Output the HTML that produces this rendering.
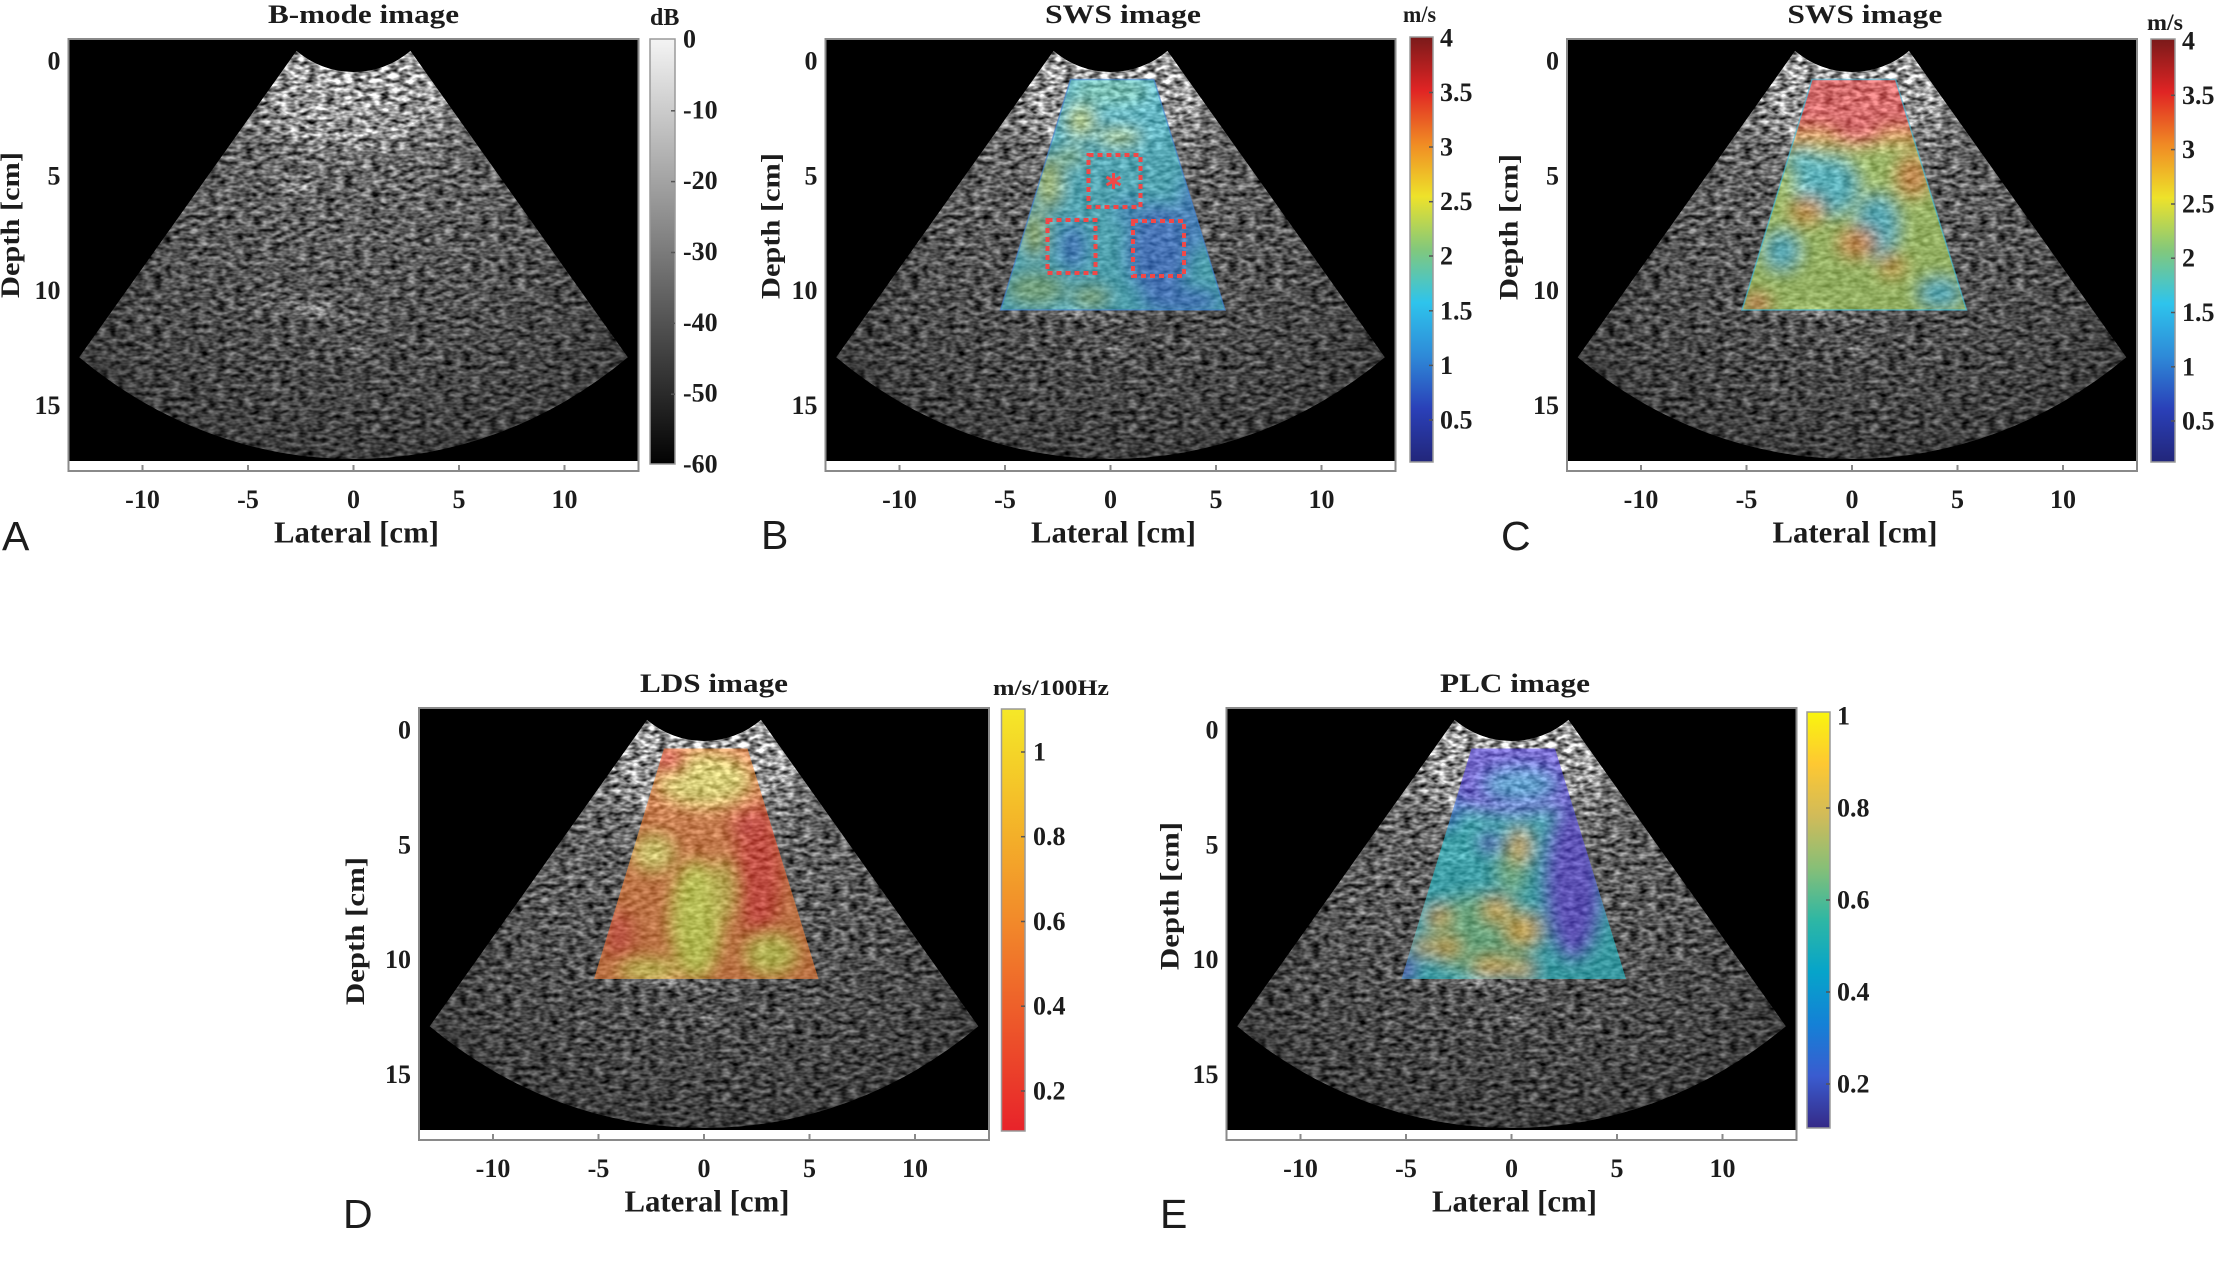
<!DOCTYPE html>
<html><head><meta charset="utf-8"><style>
html,body{margin:0;padding:0;background:#fff;}
svg{display:block;}
.t{font-family:"Liberation Serif","Times New Roman",Times,serif;font-weight:bold;fill:#1c1c1c;}
.L{font-family:"Liberation Sans",Arial,sans-serif;font-weight:normal;fill:#1c1c1c;}
</style></head><body>
<svg xmlns="http://www.w3.org/2000/svg" xmlns:xlink="http://www.w3.org/1999/xlink" width="2216" height="1262" viewBox="0 0 2216 1262">
<defs>
  <radialGradient id="bmg" gradientUnits="userSpaceOnUse" cx="0" cy="0" r="21.27" gradientTransform="translate(0,-90.5) scale(21.1,22.96)">
    <stop offset="0" stop-color="#a8a8a8"/>
    <stop offset="0.207" stop-color="#a8a8a8"/>
    <stop offset="0.25" stop-color="#9a9a9a"/>
    <stop offset="0.30" stop-color="#929292"/>
    <stop offset="0.35" stop-color="#868686"/>
    <stop offset="0.39" stop-color="#6e6e6e"/>
    <stop offset="0.45" stop-color="#646464"/>
    <stop offset="0.60" stop-color="#5a5a5a"/>
    <stop offset="0.80" stop-color="#4c4c4c"/>
    <stop offset="1" stop-color="#3e3e3e"/>
  </radialGradient>
  <radialGradient id="glow">
    <stop offset="0" stop-color="#fff" stop-opacity="0.22"/>
    <stop offset="1" stop-color="#fff" stop-opacity="0"/>
  </radialGradient>
  <clipPath id="sec"><path d="M -57 -10.1 A 93.3 101.5 0 0 0 57 -10.1 L 274.3 296.2 A 448.8 488.4 0 0 1 -274.3 296.2 Z"/></clipPath>
  <clipPath id="roi"><path d="M -40 18.5 L 43.5 18.5 L 114.5 249 L -110 249 Z"/></clipPath>
  <filter id="spk" x="-2%" y="-2%" width="104%" height="104%" color-interpolation-filters="sRGB">
    <feTurbulence type="fractalNoise" baseFrequency="0.11 0.22" numOctaves="2" seed="4" result="t"/>
    <feColorMatrix in="t" type="matrix" values="1 0 0 0 0  1 0 0 0 0  1 0 0 0 0  0 0 0 0 1" result="g"/>
    <feComponentTransfer in="g" result="c">
      <feFuncR type="linear" slope="1.45" intercept="-0.225"/>
      <feFuncG type="linear" slope="1.45" intercept="-0.225"/>
      <feFuncB type="linear" slope="1.45" intercept="-0.225"/>
    </feComponentTransfer>
    <feComposite in="SourceGraphic" in2="c" operator="arithmetic" k1="2" k2="0" k3="0" k4="0"/>
  </filter>
  <filter id="bl" x="-30%" y="-30%" width="160%" height="160%">
    <feGaussianBlur stdDeviation="8"/>
  </filter>
  <linearGradient id="gGray" x1="0" y1="0" x2="0" y2="1">
    <stop offset="0" stop-color="#f4f4f4"/>
    <stop offset="1" stop-color="#020202"/>
  </linearGradient>
  <linearGradient id="gJet" x1="0" y1="0" x2="0" y2="1">
    <stop offset="0" stop-color="#7a1a1a"/>
    <stop offset="0.125" stop-color="#e02424"/>
    <stop offset="0.25" stop-color="#f08a24"/>
    <stop offset="0.375" stop-color="#eee22a"/>
    <stop offset="0.5" stop-color="#82c87c"/>
    <stop offset="0.625" stop-color="#2ec4ec"/>
    <stop offset="0.75" stop-color="#2e8ad8"/>
    <stop offset="0.875" stop-color="#2a40b8"/>
    <stop offset="1" stop-color="#22267a"/>
  </linearGradient>
  <linearGradient id="gAut" x1="0" y1="0" x2="0" y2="1">
    <stop offset="0" stop-color="#f5e828"/>
    <stop offset="0.5" stop-color="#f28a2a"/>
    <stop offset="1" stop-color="#e8232a"/>
  </linearGradient>
  <linearGradient id="gPar" x1="0" y1="0" x2="0" y2="1">
    <stop offset="0" stop-color="#f9f50e"/>
    <stop offset="0.125" stop-color="#fec832"/>
    <stop offset="0.25" stop-color="#d1bb59"/>
    <stop offset="0.375" stop-color="#87bf77"/>
    <stop offset="0.5" stop-color="#2eb7a4"/>
    <stop offset="0.625" stop-color="#06a4ca"/>
    <stop offset="0.75" stop-color="#1481d6"/>
    <stop offset="0.875" stop-color="#3a5cd0"/>
    <stop offset="1" stop-color="#352a87"/>
  </linearGradient>
  <g id="bm">
    <g filter="url(#spk)">
      <path d="M -57 -10.1 A 93.3 101.5 0 0 0 57 -10.1 L 274.3 296.2 A 448.8 488.4 0 0 1 -274.3 296.2 Z" fill="url(#bmg)"/>
      <g clip-path="url(#sec)" fill="none" stroke="#e0e0e0">
        <ellipse cx="0" cy="-90.5" rx="102.1" ry="111.1" stroke-width="4" stroke-opacity="0.28"/>
        <ellipse cx="0" cy="-90.5" rx="116.9" ry="127.2" stroke-width="4" stroke-opacity="0.25"/>
        <ellipse cx="0" cy="-90.5" rx="131.7" ry="143.3" stroke-width="4" stroke-opacity="0.22"/>
        <ellipse cx="0" cy="-90.5" rx="150.7" ry="163.9" stroke-width="5" stroke-opacity="0.28"/>
        <ellipse cx="-55" cy="125" rx="25" ry="14" fill="url(#glow)" stroke="none"/>
        <ellipse cx="-42" cy="248" rx="70" ry="14" fill="url(#glow)" stroke="none" transform="rotate(11 -42 248)"/>
        <ellipse cx="4" cy="290" rx="12" ry="10" fill="url(#glow)" stroke="none"/>
        <ellipse cx="-45" cy="72" rx="50" ry="8" fill="url(#glow)" stroke="none"/>
      </g>
    </g>
  </g>
  <g id="axfr">
    <rect x="-285" y="-22" width="570" height="432" fill="#fff" stroke="#8a8a8a" stroke-width="2"/>
    <rect x="-284" y="-21" width="568" height="421" fill="#000"/>
  </g>
  <g id="ticks" stroke="#8a8a8a" stroke-width="2">
    <line x1="-211" y1="410" x2="-211" y2="404"/>
    <line x1="-105.5" y1="410" x2="-105.5" y2="404"/>
    <line x1="0" y1="410" x2="0" y2="404"/>
    <line x1="105.5" y1="410" x2="105.5" y2="404"/>
    <line x1="211" y1="410" x2="211" y2="404"/>
  </g>
  <g id="lbls" class="t" font-size="26">
    <text class="t" x="-293" y="8.5" text-anchor="end">0</text>
    <text class="t" x="-293" y="123.3" text-anchor="end">5</text>
    <text class="t" x="-293" y="238.1" text-anchor="end">10</text>
    <text class="t" x="-293" y="352.9" text-anchor="end">15</text>
    <text class="t" x="-211" y="447" text-anchor="middle">-10</text>
    <text class="t" x="-105.5" y="447" text-anchor="middle">-5</text>
    <text class="t" x="0" y="447" text-anchor="middle">0</text>
    <text class="t" x="105.5" y="447" text-anchor="middle">5</text>
    <text class="t" x="211" y="447" text-anchor="middle">10</text>
    <text class="t" x="3" y="481.5" text-anchor="middle" font-size="31" textLength="165" lengthAdjust="spacingAndGlyphs">Lateral [cm]</text>
  </g>
</defs>

<!-- Panel A -->
<g transform="translate(353.5,61)">
  <use xlink:href="#axfr" href="#axfr"/>
  <use xlink:href="#bm" href="#bm"/>
  <use xlink:href="#ticks" href="#ticks"/>
  <use xlink:href="#lbls" href="#lbls"/>
  <text class="t" x="10" y="-38" font-size="26" text-anchor="middle" textLength="191" lengthAdjust="spacingAndGlyphs">B-mode image</text>
  <text class="t" transform="translate(-334.5,164) rotate(-90)" font-size="26" text-anchor="middle" textLength="146" lengthAdjust="spacingAndGlyphs">Depth [cm]</text>
</g>

<!-- Panel B -->
<g transform="translate(1110.5,61)">
  <use xlink:href="#axfr" href="#axfr"/>
  <use xlink:href="#bm" href="#bm"/>
  <g clip-path="url(#roi)">
    <g opacity="0.6" filter="url(#bl)">
      <rect x="-140" y="0" width="280" height="270" fill="#44cce2"/>
      <ellipse cx="0" cy="30" rx="40" ry="15" fill="#64d4c0"/>
      <ellipse cx="-30" cy="60" rx="14" ry="16" fill="#b8dc68"/>
      <ellipse cx="8" cy="76" rx="22" ry="8" fill="#b0dc70"/>
      <ellipse cx="-62" cy="122" rx="14" ry="26" fill="#b0d870"/>
      <ellipse cx="-76" cy="172" rx="12" ry="24" fill="#a8d470"/>
      <ellipse cx="-40" cy="95" rx="14" ry="10" fill="#88d090"/>
      <ellipse cx="-75" cy="228" rx="30" ry="18" fill="#80cc90"/>
      <ellipse cx="-20" cy="236" rx="20" ry="12" fill="#88cc88"/>
      <ellipse cx="48" cy="190" rx="32" ry="48" fill="#3a84f0"/>
      <ellipse cx="-38" cy="186" rx="14" ry="24" fill="#3a8cf0"/>
      <ellipse cx="85" cy="150" rx="18" ry="40" fill="#3c98f0"/>
      <ellipse cx="70" cy="240" rx="40" ry="14" fill="#3a88f0"/>
      <ellipse cx="20" cy="150" rx="15" ry="15" fill="#40a8f0"/>
    </g>
  </g>
  <path d="M -40 18.5 L 43.5 18.5 L 114.5 249 L -110 249 Z" fill="none" stroke="#4080d0" stroke-width="1.5" stroke-opacity="0.6"/>
  <g fill="none" stroke="#f04848" stroke-width="4" stroke-dasharray="5 4">
    <rect x="-22" y="94" width="52" height="52"/>
    <rect x="-63" y="159" width="48" height="53"/>
    <rect x="22.5" y="160" width="51" height="55"/>
  </g>
  <g transform="translate(3,120)" stroke="#f04848" stroke-width="3">
    <line x1="0" y1="-8" x2="0" y2="8"/>
    <line x1="-7" y1="-4" x2="7" y2="4"/>
    <line x1="-7" y1="4" x2="7" y2="-4"/>
  </g>
  <use xlink:href="#ticks" href="#ticks"/>
  <use xlink:href="#lbls" href="#lbls"/>
  <text class="t" x="12.5" y="-38" font-size="26" text-anchor="middle" textLength="156" lengthAdjust="spacingAndGlyphs">SWS image</text>
  <text class="t" transform="translate(-331,165) rotate(-90)" font-size="26" text-anchor="middle" textLength="146" lengthAdjust="spacingAndGlyphs">Depth [cm]</text>
</g>

<!-- Panel C -->
<g transform="translate(1852,61)">
  <use xlink:href="#axfr" href="#axfr"/>
  <use xlink:href="#bm" href="#bm"/>
  <g clip-path="url(#roi)">
    <g opacity="0.58" filter="url(#bl)">
      <rect x="-140" y="0" width="280" height="270" fill="#bcec68"/>
      <ellipse cx="-25" cy="125" rx="32" ry="30" fill="#50e0f0"/>
      <ellipse cx="25" cy="165" rx="22" ry="32" fill="#50dcf0"/>
      <ellipse cx="-70" cy="190" rx="18" ry="20" fill="#50dcf0"/>
      <ellipse cx="88" cy="232" rx="22" ry="16" fill="#50dcf0"/>
      <ellipse cx="-50" cy="100" rx="16" ry="12" fill="#50e4f0"/>
      <ellipse cx="61" cy="115" rx="18" ry="22" fill="#ffa040"/>
      <ellipse cx="-45" cy="150" rx="18" ry="14" fill="#ffb040"/>
      <ellipse cx="5" cy="182" rx="20" ry="16" fill="#ffa040"/>
      <ellipse cx="-95" cy="242" rx="14" ry="10" fill="#ff8040"/>
      <ellipse cx="40" cy="205" rx="14" ry="12" fill="#ffc040"/>
      <rect x="-140" y="0" width="280" height="84" fill="#ffb040"/>
      <rect x="-140" y="0" width="280" height="70" fill="#ff5050"/>
      <ellipse cx="5" cy="68" rx="26" ry="18" fill="#ff5050"/>
      <ellipse cx="-20" cy="25" rx="20" ry="12" fill="#e83838"/>
    </g>
  </g>
  <path d="M -40 18.5 L 43.5 18.5 L 114.5 249 L -110 249 Z" fill="none" stroke="#40c0e0" stroke-width="1.5" stroke-opacity="0.6"/>
  <use xlink:href="#ticks" href="#ticks"/>
  <use xlink:href="#lbls" href="#lbls"/>
  <text class="t" x="12.8" y="-38" font-size="26" text-anchor="middle" textLength="155" lengthAdjust="spacingAndGlyphs">SWS image</text>
  <text class="t" transform="translate(-334.5,166) rotate(-90)" font-size="26" text-anchor="middle" textLength="146" lengthAdjust="spacingAndGlyphs">Depth [cm]</text>
</g>

<!-- Panel D -->
<g transform="translate(704,730)">
  <use xlink:href="#axfr" href="#axfr"/>
  <use xlink:href="#bm" href="#bm"/>
  <g clip-path="url(#roi)">
    <g opacity="0.58" filter="url(#bl)">
      <rect x="-140" y="0" width="280" height="270" fill="#ff8236"/>
      <ellipse cx="0" cy="50" rx="45" ry="25" fill="#fff060"/>
      <ellipse cx="-35" cy="32" rx="18" ry="14" fill="#ff4030"/>
      <ellipse cx="55" cy="140" rx="26" ry="68" fill="#ff3c2c"/>
      <ellipse cx="40" cy="95" rx="15" ry="15" fill="#ff4030"/>
      <ellipse cx="-8" cy="190" rx="24" ry="58" fill="#f4ff50"/>
      <ellipse cx="-50" cy="123" rx="20" ry="18" fill="#fff060"/>
      <ellipse cx="67" cy="224" rx="25" ry="20" fill="#f0f050"/>
      <ellipse cx="-55" cy="240" rx="30" ry="10" fill="#f8f050"/>
      <ellipse cx="20" cy="160" rx="12" ry="30" fill="#f8e050"/>
      <ellipse cx="-85" cy="205" rx="16" ry="26" fill="#ff5030"/>
    </g>
  </g>
  <use xlink:href="#ticks" href="#ticks"/>
  <use xlink:href="#lbls" href="#lbls"/>
  <text class="t" x="10" y="-38" font-size="26" text-anchor="middle" textLength="148" lengthAdjust="spacingAndGlyphs">LDS image</text>
  <text class="t" transform="translate(-340,201) rotate(-90)" font-size="26" text-anchor="middle" textLength="148" lengthAdjust="spacingAndGlyphs">Depth [cm]</text>
</g>

<!-- Panel E -->
<g transform="translate(1511.5,730)">
  <use xlink:href="#axfr" href="#axfr"/>
  <use xlink:href="#bm" href="#bm"/>
  <g clip-path="url(#roi)">
    <g opacity="0.6" filter="url(#bl)">
      <rect x="-140" y="0" width="280" height="270" fill="#28c4d0"/>
      <ellipse cx="-30" cy="205" rx="55" ry="40" fill="#70d090"/>
      <ellipse cx="0" cy="140" rx="15" ry="25" fill="#70d090"/>
      <ellipse cx="0" cy="40" rx="90" ry="45" fill="#5a48ec"/>
      <ellipse cx="62" cy="150" rx="30" ry="80" fill="#5a48ec"/>
      <ellipse cx="8" cy="55" rx="35" ry="16" fill="#40a8f0"/>
      <ellipse cx="-22" cy="113" rx="10" ry="10" fill="#5a48ec"/>
      <ellipse cx="-106" cy="240" rx="10" ry="14" fill="#5a48ec"/>
      <ellipse cx="-70" cy="80" rx="20" ry="20" fill="#3a7ef0"/>
      <ellipse cx="8" cy="117" rx="10" ry="17" fill="#ffc840"/>
      <ellipse cx="-15" cy="180" rx="14" ry="12" fill="#ffc840"/>
      <ellipse cx="11" cy="200" rx="18" ry="15" fill="#ffc840"/>
      <ellipse cx="-72" cy="187" rx="12" ry="10" fill="#ffc840"/>
      <ellipse cx="-65" cy="217" rx="15" ry="10" fill="#ffc840"/>
      <ellipse cx="-89" cy="217" rx="8" ry="8" fill="#ffc840"/>
      <ellipse cx="-19" cy="237" rx="20" ry="10" fill="#ffc840"/>
      <ellipse cx="10" cy="240" rx="12" ry="8" fill="#ffc840"/>
    </g>
  </g>
  <use xlink:href="#ticks" href="#ticks"/>
  <use xlink:href="#lbls" href="#lbls"/>
  <text class="t" x="3.5" y="-38" font-size="26" text-anchor="middle" textLength="150" lengthAdjust="spacingAndGlyphs">PLC image</text>
  <text class="t" transform="translate(-333,166) rotate(-90)" font-size="26" text-anchor="middle" textLength="148" lengthAdjust="spacingAndGlyphs">Depth [cm]</text>
</g>

<!-- Colorbars -->
<g stroke="#9a9a9a" stroke-width="1.5">
  <rect x="650" y="39" width="25" height="425" fill="url(#gGray)"/>
  <rect x="1410" y="37" width="23" height="425" fill="url(#gJet)"/>
  <rect x="2151" y="39" width="24" height="423" fill="url(#gJet)"/>
  <rect x="1001.5" y="709" width="23.5" height="422" fill="url(#gAut)"/>
  <rect x="1807" y="712" width="23" height="416" fill="url(#gPar)"/>
</g>
<g stroke="#555" stroke-width="1.5">
  <line x1="671" y1="110.8" x2="675" y2="110.8"/><line x1="671" y1="181.6" x2="675" y2="181.6"/><line x1="671" y1="252.5" x2="675" y2="252.5"/><line x1="671" y1="323.3" x2="675" y2="323.3"/><line x1="671" y1="394.2" x2="675" y2="394.2"/>
  <line x1="1429" y1="92.5" x2="1433" y2="92.5"/><line x1="1429" y1="147" x2="1433" y2="147"/><line x1="1429" y1="201.7" x2="1433" y2="201.7"/><line x1="1429" y1="256" x2="1433" y2="256"/><line x1="1429" y1="310.8" x2="1433" y2="310.8"/><line x1="1429" y1="365.4" x2="1433" y2="365.4"/><line x1="1429" y1="420" x2="1433" y2="420"/>
  <line x1="2171" y1="95.3" x2="2175" y2="95.3"/><line x1="2171" y1="149.6" x2="2175" y2="149.6"/><line x1="2171" y1="204" x2="2175" y2="204"/><line x1="2171" y1="258.2" x2="2175" y2="258.2"/><line x1="2171" y1="312.5" x2="2175" y2="312.5"/><line x1="2171" y1="366.8" x2="2175" y2="366.8"/><line x1="2171" y1="421" x2="2175" y2="421"/>
  <line x1="1021" y1="752" x2="1025" y2="752"/><line x1="1021" y1="836.7" x2="1025" y2="836.7"/><line x1="1021" y1="921.5" x2="1025" y2="921.5"/><line x1="1021" y1="1006.2" x2="1025" y2="1006.2"/><line x1="1021" y1="1091" x2="1025" y2="1091"/>
  <line x1="1826" y1="808" x2="1830" y2="808"/><line x1="1826" y1="900" x2="1830" y2="900"/><line x1="1826" y1="992" x2="1830" y2="992"/><line x1="1826" y1="1084" x2="1830" y2="1084"/>
</g>

<g class="t" font-size="26">
  <text class="t" x="650" y="25" font-size="24">dB</text>
  <text class="t" x="683" y="47.5">0</text>
  <text class="t" x="683" y="118.3">-10</text>
  <text class="t" x="683" y="189.1">-20</text>
  <text class="t" x="683" y="260">-30</text>
  <text class="t" x="683" y="330.8">-40</text>
  <text class="t" x="683" y="401.7">-50</text>
  <text class="t" x="683" y="472.5">-60</text>

  <text class="t" x="1403" y="22" font-size="23" textLength="33" lengthAdjust="spacingAndGlyphs">m/s</text>
  <text class="t" x="1440" y="46.5">4</text>
  <text class="t" x="1440" y="101">3.5</text>
  <text class="t" x="1440" y="155.6">3</text>
  <text class="t" x="1440" y="210.2">2.5</text>
  <text class="t" x="1440" y="264.7">2</text>
  <text class="t" x="1440" y="319.3">1.5</text>
  <text class="t" x="1440" y="373.9">1</text>
  <text class="t" x="1440" y="428.5">0.5</text>

  <text class="t" x="2147" y="30" font-size="23" textLength="36" lengthAdjust="spacingAndGlyphs">m/s</text>
  <text class="t" x="2182" y="49.5">4</text>
  <text class="t" x="2182" y="103.8">3.5</text>
  <text class="t" x="2182" y="158.1">3</text>
  <text class="t" x="2182" y="212.4">2.5</text>
  <text class="t" x="2182" y="266.7">2</text>
  <text class="t" x="2182" y="321">1.5</text>
  <text class="t" x="2182" y="375.3">1</text>
  <text class="t" x="2182" y="429.6">0.5</text>

  <text class="t" x="993" y="695" font-size="22" textLength="116" lengthAdjust="spacingAndGlyphs">m/s/100Hz</text>
  <text class="t" x="1033" y="760.5">1</text>
  <text class="t" x="1033" y="845.2">0.8</text>
  <text class="t" x="1033" y="930">0.6</text>
  <text class="t" x="1033" y="1014.7">0.4</text>
  <text class="t" x="1033" y="1099.5">0.2</text>

  <text class="t" x="1837" y="724.5">1</text>
  <text class="t" x="1837" y="816.5">0.8</text>
  <text class="t" x="1837" y="908.5">0.6</text>
  <text class="t" x="1837" y="1000.5">0.4</text>
  <text class="t" x="1837" y="1092.5">0.2</text>
</g>

<g class="L" font-size="41">
  <text class="L" x="2" y="550">A</text>
  <text class="L" x="761" y="549">B</text>
  <text class="L" x="1501" y="550">C</text>
  <text class="L" x="343" y="1228">D</text>
  <text class="L" x="1160" y="1228">E</text>
</g>
</svg>
</body></html>
